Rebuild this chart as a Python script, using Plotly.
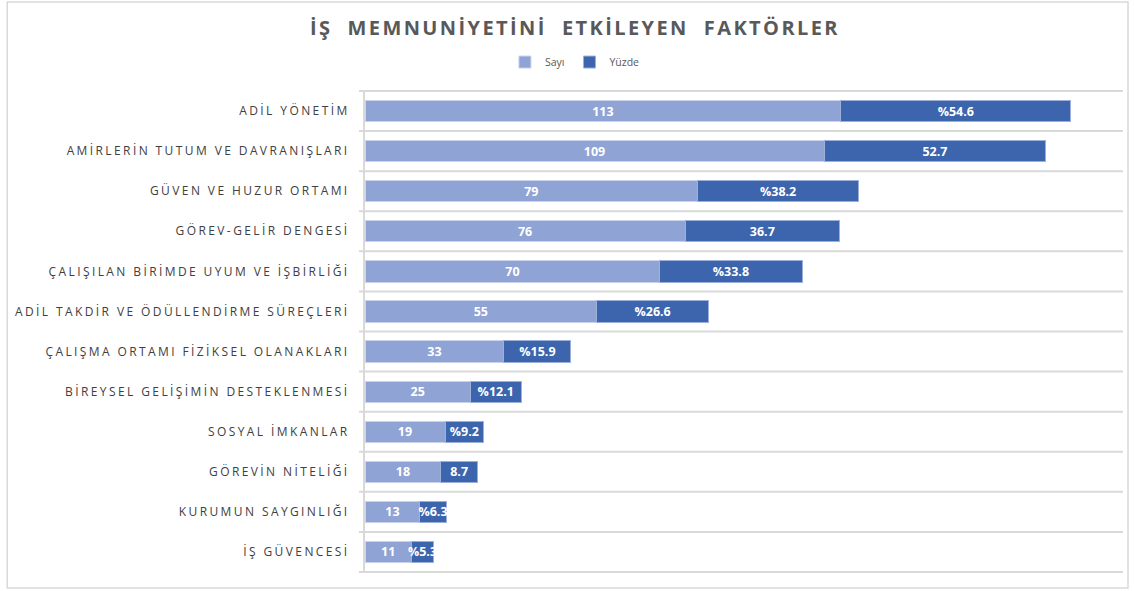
import plotly.graph_objects as go

categories = [
    "ADİL YÖNETİM",
    "AMİRLERİN TUTUM VE DAVRANIŞLARI",
    "GÜVEN VE HUZUR ORTAMI",
    "GÖREV-GELİR DENGESİ",
    "ÇALIŞILAN BİRİMDE UYUM VE İŞBİRLİĞİ",
    "ADİL TAKDİR VE ÖDÜLLENDİRME SÜREÇLERİ",
    "ÇALIŞMA ORTAMI FİZİKSEL OLANAKLARI",
    "BİREYSEL GELİŞİMİN DESTEKLENMESİ",
    "SOSYAL İMKANLAR",
    "GÖREVİN NİTELİĞİ",
    "KURUMUN SAYGINLIĞI",
    "İŞ GÜVENCESİ",
]
sayi = [113, 109, 79, 76, 70, 55, 33, 25, 19, 18, 13, 11]
yuzde = [54.6, 52.7, 38.2, 36.7, 33.8, 26.6, 15.9, 12.1, 9.2, 8.7, 6.3, 5.3]
yuzde_labels = ["%54.6", "52.7", "%38.2", "36.7", "%33.8", "%26.6",
                "%15.9", "%12.1", "%9.2", "8.7", "%6.3", "%5.3"]
sayi_labels = [str(v) for v in sayi]

FONT = "Open Sans"
C_SAYI = "#8FA3D5"
C_YUZDE = "#3C65AE"
GRID = "#D9D9D9"

fig = go.Figure()
fig.add_trace(go.Bar(
    y=categories, x=sayi, name="Sayı", orientation="h",
    marker=dict(color=C_SAYI, line=dict(color="#C9D3EC", width=1)),
    text=sayi_labels, textposition="inside", insidetextanchor="middle",
    textangle=0,
    textfont=dict(family=FONT, size=12.5, color="white", weight="bold"),
    hoverinfo="x+y",
))
fig.add_trace(go.Bar(
    y=categories, x=yuzde, name="Yüzde", orientation="h",
    marker=dict(color=C_YUZDE, line=dict(color="#9DB0DA", width=1)),
    text=yuzde_labels, textposition="inside", insidetextanchor="middle",
    textangle=0,
    textfont=dict(family=FONT, size=12.5, color="white", weight="bold"),
    hoverinfo="x+y",
))

n = len(categories)
shapes = []
for i in range(n + 1):
    shapes.append(dict(type="line", xref="paper", yref="y",
                       x0=-0.008, x1=1, y0=i - 0.5, y1=i - 0.5,
                       line=dict(color=GRID, width=2), layer="below"))
# outer chart border
shapes.append(dict(type="rect", xref="paper", yref="paper",
                   x0=-0.472, x1=1.0066, y0=-0.031, y1=1.182,
                   line=dict(color="#D9D9D9", width=1.5), layer="below"))

fig.update_layout(
    width=1134, height=591,
    margin=dict(l=365, r=11, t=90, b=18, autoexpand=False),
    paper_bgcolor="white", plot_bgcolor="white",
    barmode="stack", bargap=0.47,
    title=dict(text="İŞ  MEMNUNİYETİNİ  ETKİLEYEN  FAKTÖRLER",
               x=0.507, xref="container", xanchor="center",
               y=0.952, yref="container", yanchor="middle",
               font=dict(family=FONT, size=20, color="#595959", weight="bold")),
    legend=dict(orientation="h", x=0.507, xref="container", xanchor="center",
                y=0.895, yref="container", yanchor="middle",
                bgcolor="rgba(0,0,0,0)", itemwidth=30,
                font=dict(family=FONT, size=10.5, color="#595959"),
                traceorder="normal"),
    uniformtext=dict(minsize=12.5, mode="show"),
    xaxis=dict(range=[0, 180], showgrid=False, zeroline=False,
               showticklabels=False, showline=False, fixedrange=True),
    yaxis=dict(autorange="reversed", showgrid=False, zeroline=False,
               showline=True, linecolor=GRID, linewidth=2,
               ticks="", ticklabelstandoff=11,
               tickfont=dict(family=FONT, size=12, color="#404040")),
    shapes=shapes,
)

post = """
document.body.style.margin = '0';
document.body.style.overflow = 'hidden';
var gd = document.getElementById('{plot_id}');
function spaceText(){
  gd.querySelectorAll('.ytick text').forEach(function(t){ t.style.letterSpacing = '2.4px'; });
  var tt = gd.querySelector('.gtitle');
  if (tt) { tt.style.letterSpacing = '2.4px'; }
}
spaceText();
gd.on('plotly_afterplot', spaceText);
"""

fig.write_html("out.html", post_script=post, config={"displayModeBar": False})
